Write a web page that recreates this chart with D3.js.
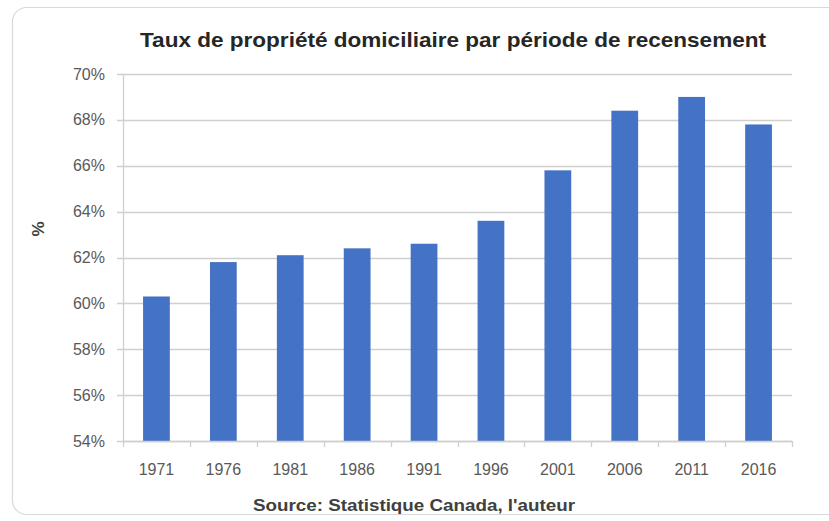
<!DOCTYPE html>
<html>
<head>
<meta charset="utf-8">
<script src="https://cdn.jsdelivr.net/npm/d3@7"></script>
<style>
  body { margin: 0; background: #fff; }
  text { font-family: "Liberation Sans", Arial, sans-serif; }
</style>
</head>
<body>
<svg id="chart"></svg>
<script>
const W = 829, H = 521;

// data
const years = ["1971", "1976", "1981", "1986", "1991", "1996", "2001", "2006", "2011", "2016"];
const rates = [60.3, 61.8, 62.1, 62.4, 62.6, 63.6, 65.8, 68.4, 69.0, 67.8];
const yTicks = [54, 56, 58, 60, 62, 64, 66, 68, 70];

const title = "Taux de propriété domiciliaire par période de recensement";
const source = "Source:  Statistique Canada, l'auteur";

const margin = {top: 74, right: 37, bottom: 80, left: 123};

const svg = d3.select("#chart")
    .attr("width", W)
    .attr("height", H);

// chart frame, rounded, cut by the right edge
svg.append("rect")
    .attr("x", 12.5).attr("y", 7.5)
    .attr("width", 840).attr("height", 507)
    .attr("rx", 14)
    .attr("fill", "#fff")
    .attr("stroke", "#d9d9d9")
    .attr("stroke-width", 1.2);

const x = d3.scaleBand()
    .domain(years)
    .range([margin.left, W - margin.right])
    .paddingInner(0.6)
    .paddingOuter(0.3);

const y = d3.scaleLinear()
    .domain([54, 70])
    .range([H - margin.bottom, margin.top]);

// gridlines
svg.append("g")
    .selectAll("line")
    .data(yTicks)
    .enter().append("line")
    .attr("x1", margin.left - 6)
    .attr("x2", W - margin.right)
    .attr("y1", d => Math.round(y(d)) + 0.5)
    .attr("y2", d => Math.round(y(d)) + 0.5)
    .attr("stroke", "#cfcfcf")
    .attr("stroke-width", 1.3);

// y axis line
svg.append("line")
    .attr("x1", margin.left + 0.5).attr("x2", margin.left + 0.5)
    .attr("y1", y(70)).attr("y2", y(54))
    .attr("stroke", "#cfcfcf")
    .attr("stroke-width", 1.3);

// y tick labels
svg.append("g")
    .selectAll("text")
    .data(yTicks)
    .enter().append("text")
    .attr("x", margin.left - 18)
    .attr("y", d => y(d))
    .attr("dy", "0.35em")
    .attr("text-anchor", "end")
    .attr("font-size", 16)
    .attr("fill", "#595959")
    .text(d => d + "%");

// bars
svg.append("g")
    .selectAll("rect")
    .data(rates)
    .enter().append("rect")
    .attr("x", (d, i) => x(years[i]))
    .attr("y", d => y(d))
    .attr("width", x.bandwidth())
    .attr("height", d => y(54) - y(d))
    .attr("fill", "#4472c4");

// x axis line with ticks between categories
const bounds = d3.range(years.length + 1).map(i => margin.left + i * (W - margin.right - margin.left) / years.length);
svg.append("line")
    .attr("x1", margin.left).attr("x2", W - margin.right)
    .attr("y1", Math.round(y(54)) + 0.5).attr("y2", Math.round(y(54)) + 0.5)
    .attr("stroke", "#cfcfcf")
    .attr("stroke-width", 1.3);
svg.append("g")
    .selectAll("line")
    .data(bounds)
    .enter().append("line")
    .attr("x1", d => Math.round(d) + 0.5)
    .attr("x2", d => Math.round(d) + 0.5)
    .attr("y1", y(54))
    .attr("y2", y(54) + 6)
    .attr("stroke", "#cfcfcf")
    .attr("stroke-width", 1.3);

// x tick labels
svg.append("g")
    .selectAll("text")
    .data(years)
    .enter().append("text")
    .attr("x", d => x(d) + x.bandwidth() / 2)
    .attr("y", 475)
    .attr("text-anchor", "middle")
    .attr("font-size", 16)
    .attr("fill", "#595959")
    .text(d => d);

// title
svg.append("text")
    .attr("x", 453)
    .attr("y", 47)
    .attr("text-anchor", "middle")
    .attr("font-size", 21)
    .attr("font-weight", "bold")
    .attr("fill", "#262626")
    .attr("textLength", 626)
    .attr("lengthAdjust", "spacingAndGlyphs")
    .text(title);

// x axis title (source)
svg.append("text")
    .attr("x", 414)
    .attr("y", 511)
    .attr("text-anchor", "middle")
    .attr("font-size", 16)
    .attr("font-weight", "bold")
    .attr("fill", "#404040")
    .attr("textLength", 322)
    .attr("lengthAdjust", "spacingAndGlyphs")
    .text(source);

// y axis title
svg.append("text")
    .attr("transform", "translate(44,229) rotate(-90)")
    .attr("text-anchor", "middle")
    .attr("font-size", 17)
    .attr("font-weight", "bold")
    .attr("fill", "#404040")
    .text("%");
</script>
</body>
</html>
